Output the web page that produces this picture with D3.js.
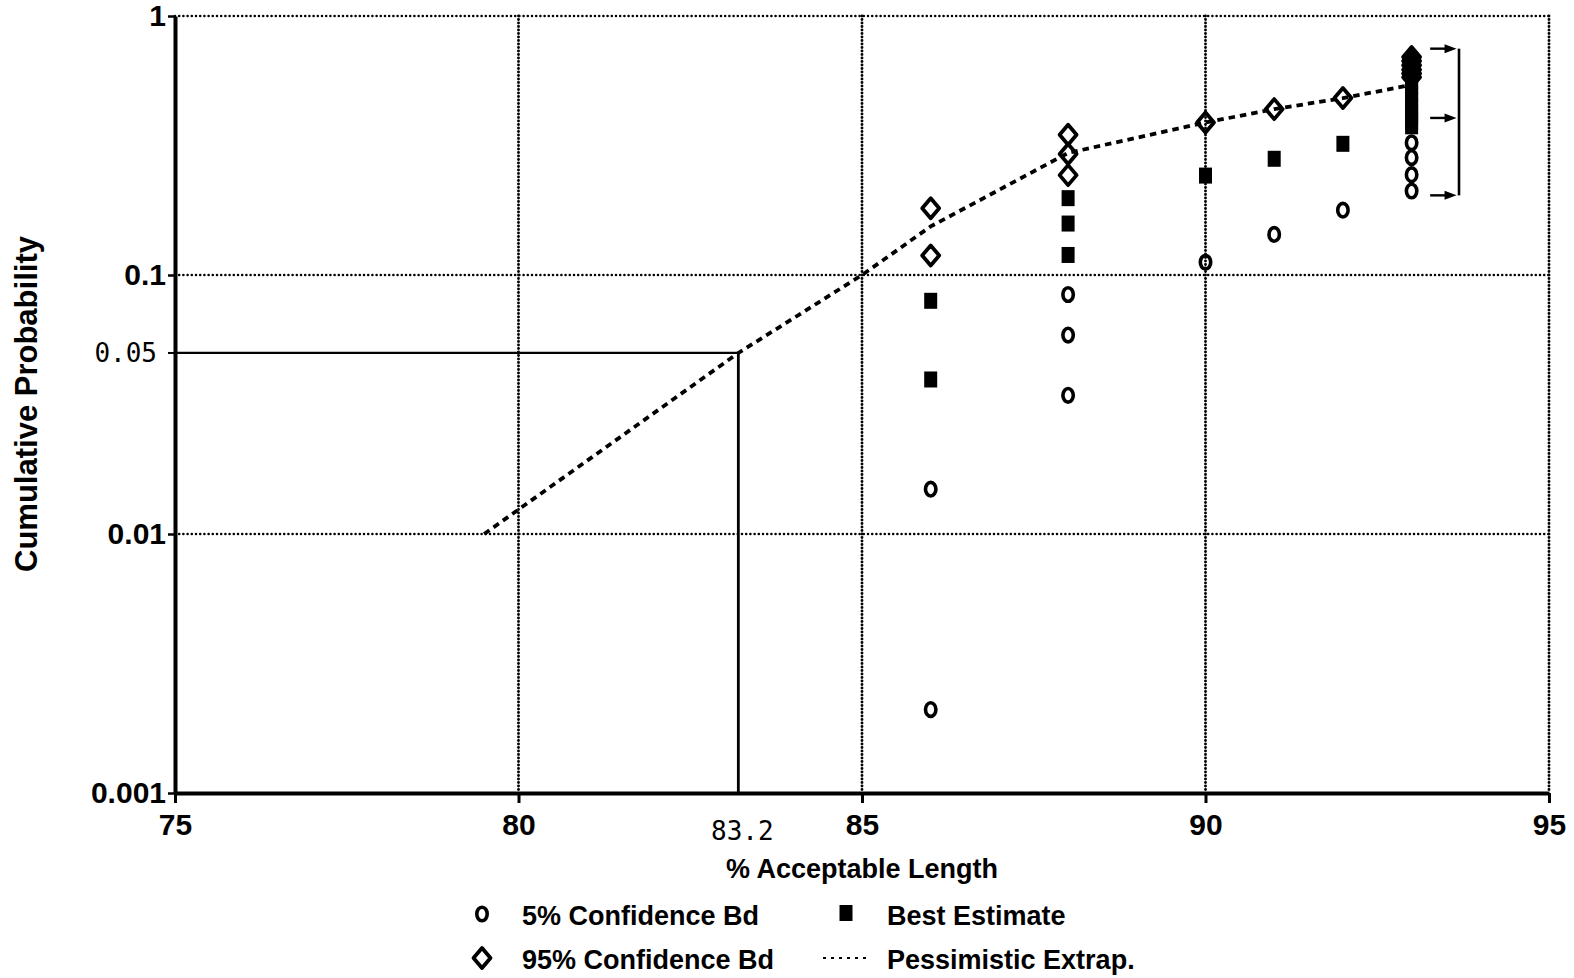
<!DOCTYPE html>
<html>
<head>
<meta charset="utf-8">
<script src="https://cdn.jsdelivr.net/npm/d3@7"></script>
<style>
  html, body { margin: 0; padding: 0; background: #fff; }
  svg { display: block; }
  text { font-family: "Liberation Sans", Arial, sans-serif; font-weight: bold; fill: #000; }
  .mono { font-family: "DejaVu Sans Mono", monospace; font-weight: normal; }
</style>
</head>
<body>
<svg id="chart" width="1574" height="978"></svg>
<script>
// Axis ticks
const xTicks = [75, 80, 85, 90, 95];
const yTicks = [1, 0.1, 0.01, 0.001];
const yTickLabels = ["1", "0.1", "0.01", "0.001"];

// Reading of the 5% point: 83.2 % acceptable length at probability 0.05
const refX = 83.2;
const refP = 0.05;

// [% acceptable length, cumulative probability]
const bound5 = [
  [86, 0.0149], [86, 0.0021],
  [88, 0.0841], [88, 0.0586], [88, 0.0343],
  [90, 0.112], [91, 0.1435], [92, 0.178],
  [93, 0.324], [93, 0.284], [93, 0.244], [93, 0.211]
];
const bestEstimate = [
  [86, 0.0795], [86, 0.0395],
  [88, 0.198], [88, 0.158], [88, 0.1195],
  [90, 0.242], [91, 0.281], [92, 0.321],
  [93, 0.56], [93, 0.53], [93, 0.50], [93, 0.475], [93, 0.45],
  [93, 0.43], [93, 0.41], [93, 0.39], [93, 0.375]
];
const bound95 = [
  [86, 0.181], [86, 0.119],
  [88, 0.348], [88, 0.293], [88, 0.243],
  [90, 0.388], [91, 0.437], [92, 0.482],
  [93, 0.695], [93, 0.67], [93, 0.645], [93, 0.62], [93, 0.60], [93, 0.58]
];
const pessimistic = [
  [79.5, 0.01], [83.2, 0.05], [85, 0.1], [86, 0.154], [88, 0.296],
  [90, 0.388], [91, 0.437], [92, 0.482], [93, 0.542]
];
// Bracket at 93 %: upper, best and lower levels
const bracketLevels = [0.748, 0.404, 0.203];
const bracketX = [93.27, 93.64, 93.69];

const svg = d3.select("#chart");
const x = d3.scaleLinear().domain([75, 95]).range([175, 1549]);
const y = d3.scaleLog().domain([0.001, 1]).range([793, 16]);

// Dotted grid
const grid = svg.append("g");
grid.selectAll("line.h").data(yTicks.filter(d => d !== 0.001)).join("line")
  .attr("x1", x(75)).attr("x2", x(95))
  .attr("y1", d => y(d)).attr("y2", d => y(d))
  .attr("stroke", "#000").attr("stroke-width", 2.6)
  .attr("stroke-linecap", "round").attr("stroke-dasharray", "0,4.2");
grid.selectAll("line.v").data(xTicks.filter(d => d !== 75)).join("line")
  .attr("x1", d => x(d)).attr("x2", d => x(d))
  .attr("y1", y(1)).attr("y2", y(0.001))
  .attr("stroke", "#000").attr("stroke-width", 2.9)
  .attr("stroke-linecap", "round").attr("stroke-dasharray", "0,3.5");

// Reference lines for the 0.05 reading
svg.append("line")
  .attr("x1", x(75)).attr("x2", x(refX))
  .attr("y1", y(refP)).attr("y2", y(refP))
  .attr("stroke", "#000").attr("stroke-width", 2.2);
svg.append("line")
  .attr("x1", x(refX)).attr("x2", x(refX))
  .attr("y1", y(refP)).attr("y2", y(0.001))
  .attr("stroke", "#000").attr("stroke-width", 2.8);

// Axes
const yAxis = d3.axisLeft(y).tickValues(yTicks)
  .tickFormat((d, i) => yTickLabels[i]).tickSize(7).tickSizeOuter(0).tickPadding(2);
const gy = svg.append("g").attr("transform", `translate(${x(75)},0)`).call(yAxis);
gy.select(".domain").attr("stroke-width", 4);
gy.selectAll(".tick line").attr("stroke-width", 2.5);
gy.selectAll(".tick text").attr("font-size", 30);

const xAxis = d3.axisBottom(x).tickValues(xTicks).tickSize(10).tickSizeOuter(0).tickPadding(11);
const gx = svg.append("g").attr("transform", `translate(0,${y(0.001)})`).call(xAxis);
gx.select(".domain").attr("stroke-width", 4);
gx.selectAll(".tick line").attr("stroke-width", 3);
gx.selectAll(".tick text").attr("font-size", 30);
svg.selectAll(".tick text")
  .style("font-family", "'Liberation Sans', Arial, sans-serif")
  .style("font-weight", "bold");

// Extra 0.05 tick and 83.2 label
svg.append("line")
  .attr("x1", x(75) - 7).attr("x2", x(75))
  .attr("y1", y(refP)).attr("y2", y(refP))
  .attr("stroke", "#000").attr("stroke-width", 2);
svg.append("text").attr("class", "mono")
  .attr("x", x(75) - 18).attr("y", y(refP)).attr("dy", "0.36em")
  .attr("text-anchor", "end").attr("font-size", 26).text("0.05");
svg.append("text").attr("class", "mono")
  .attr("x", x(refX) + 4).attr("y", 840)
  .attr("text-anchor", "middle").attr("font-size", 26).text("83.2");

// Pessimistic extrapolation
svg.append("path")
  .datum(pessimistic)
  .attr("d", d3.line().x(d => x(d[0])).y(d => y(d[1])))
  .attr("fill", "none").attr("stroke", "#000")
  .attr("stroke-width", 3.8).attr("stroke-dasharray", "6.5,5");

// Markers
const circleMark = (g, cx, cy) => g.append("ellipse")
  .attr("cx", cx).attr("cy", cy).attr("rx", 5.2).attr("ry", 6.8)
  .attr("fill", "none").attr("stroke", "#000").attr("stroke-width", 3.6);
const squareMark = (g, cx, cy) => g.append("rect")
  .attr("x", cx - 6.5).attr("y", cy - 8).attr("width", 13).attr("height", 16)
  .attr("fill", "#000");
const diamondMark = (g, cx, cy) => g.append("path")
  .attr("d", `M${cx},${cy - 10}L${cx + 8.5},${cy}L${cx},${cy + 10}L${cx - 8.5},${cy}Z`)
  .attr("fill", "none").attr("stroke", "#000").attr("stroke-width", 3.8)
  .attr("stroke-linejoin", "round");

const marks = svg.append("g");
bound5.forEach(d => circleMark(marks, x(d[0]), y(d[1])));
bestEstimate.forEach(d => squareMark(marks, x(d[0]), y(d[1])));
bound95.forEach(d => diamondMark(marks, x(d[0]), y(d[1])));

// Bracket with arrows at 93 %
const br = svg.append("g");
br.append("line")
  .attr("x1", x(bracketX[2])).attr("x2", x(bracketX[2]))
  .attr("y1", y(bracketLevels[0])).attr("y2", y(bracketLevels[2]))
  .attr("stroke", "#000").attr("stroke-width", 2.6);
bracketLevels.forEach(p => {
  const yy = y(p), x0 = x(bracketX[0]), x1 = x(bracketX[1]);
  br.append("line").attr("x1", x0).attr("x2", x1 - 6).attr("y1", yy).attr("y2", yy)
    .attr("stroke", "#000").attr("stroke-width", 2.4);
  br.append("path").attr("d", `M${x1 - 11},${yy - 4.5}L${x1 + 1},${yy}L${x1 - 11},${yy + 4.5}Z`)
    .attr("fill", "#000");
});

// Axis titles
svg.append("text")
  .attr("x", 862).attr("y", 878).attr("text-anchor", "middle")
  .attr("font-size", 27).text("% Acceptable Length");
svg.append("text")
  .attr("transform", "translate(37,404) rotate(-90)")
  .attr("text-anchor", "middle").attr("font-size", 31).text("Cumulative Probability");

// Legend
const lg = svg.append("g");
circleMark(lg, 482, 914);
lg.append("text").attr("x", 522).attr("y", 925).attr("font-size", 27).text("5% Confidence Bd");
squareMark(lg, 846, 913);
lg.append("text").attr("x", 887).attr("y", 925).attr("font-size", 27).text("Best Estimate");
diamondMark(lg, 482, 958);
lg.append("text").attr("x", 522).attr("y", 969).attr("font-size", 27).text("95% Confidence Bd");
lg.append("line").attr("x1", 823).attr("x2", 866).attr("y1", 958).attr("y2", 958)
  .attr("stroke", "#000").attr("stroke-width", 2.2).attr("stroke-dasharray", "3,5");
lg.append("text").attr("x", 887).attr("y", 969).attr("font-size", 27).text("Pessimistic Extrap.");
</script>
</body>
</html>
